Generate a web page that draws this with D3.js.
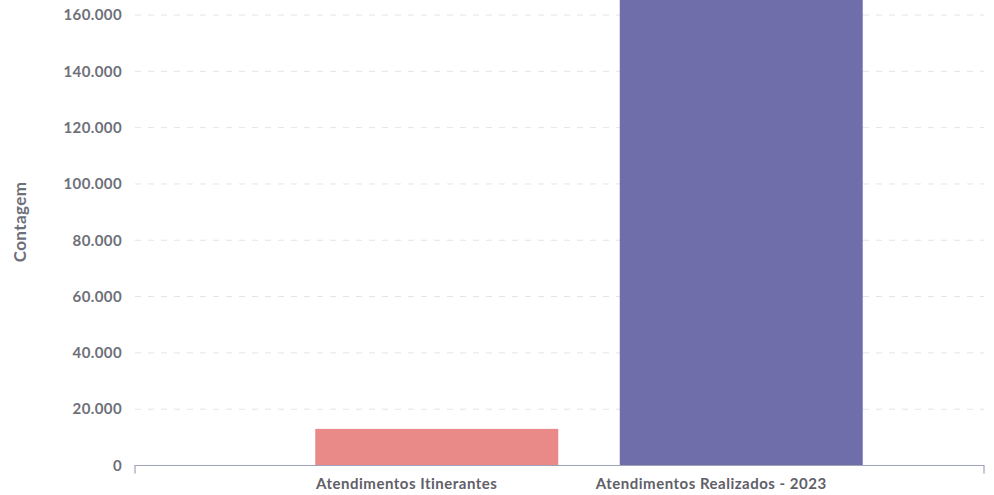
<!DOCTYPE html>
<html>
<head>
<meta charset="utf-8">
<script src="https://cdn.jsdelivr.net/npm/d3@7"></script>
<style>
  body { margin: 0; background: #fff; }
  svg { display: block; font-family: Lato, "Open Sans", sans-serif; }
</style>
</head>
<body>
<svg id="chart" width="994" height="495"></svg>
<script>
const categories = ["Atendimentos Itinerantes", "Atendimentos Realizados - 2023"];
const values = [13000, 185000];
const barColors = ["#e98a89", "#6f6eaa"];
const yTicks = [0, 20000, 40000, 60000, 80000, 100000, 120000, 140000, 160000];
const yTitle = "Contagem";

const svg = d3.select("#chart");
const axisLeft = 135, axisRight = 984;
const y0 = 465.5;

const y = d3.scaleLinear()
    .domain([0, 160000])
    .range([y0, 15]);

const x = d3.scaleBand()
    .domain(categories)
    .range([163, 1015])
    .paddingInner(0.202)
    .paddingOuter(0.5);

const fmt = v => d3.format(",")(v).replace(/,/g, ".");

// grid lines
svg.append("g")
    .selectAll("line")
    .data(yTicks.filter(d => d > 0))
    .join("line")
    .attr("x1", axisLeft)
    .attr("x2", axisRight)
    .attr("y1", d => y(d))
    .attr("y2", d => y(d))
    .attr("stroke", "#e3e4e8")
    .attr("stroke-dasharray", "6,7");

// y tick labels
svg.append("g")
    .selectAll("text")
    .data(yTicks)
    .join("text")
    .attr("x", 122)
    .attr("y", d => y(d))
    .attr("dy", "0.35em")
    .attr("text-anchor", "end")
    .attr("font-size", 15)
    .attr("letter-spacing", 0.4)
    .attr("font-weight", "bold")
    .attr("fill", "#6e7079")
    .text(fmt);

// y title
svg.append("text")
    .attr("transform", "translate(26,222) rotate(-90)")
    .attr("text-anchor", "middle")
    .attr("font-size", 17)
    .attr("letter-spacing", 0.4)
    .attr("font-weight", "bold")
    .attr("fill", "#6e7079")
    .text(yTitle);

// bars (clipped at top)
svg.append("defs").append("clipPath").attr("id", "clip")
    .append("rect").attr("x", 0).attr("y", 0).attr("width", 994).attr("height", y0);

svg.append("g")
    .attr("clip-path", "url(#clip)")
    .selectAll("rect")
    .data(values)
    .join("rect")
    .attr("x", (d, i) => x(categories[i]))
    .attr("width", x.bandwidth())
    .attr("y", d => y(d))
    .attr("height", d => y0 - y(d))
    .attr("fill", (d, i) => barColors[i]);

// x axis line with end ticks
svg.append("path")
    .attr("d", `M${axisLeft},${y0 + 8}V${y0}H${axisRight}V${y0 + 8}`)
    .attr("fill", "none")
    .attr("stroke", "#9ea3b8")
    .attr("stroke-width", 1.2);

// category labels (sit a little left of the bar centres, as in the source)
svg.append("g")
    .selectAll("text")
    .data(categories)
    .join("text")
    .attr("x", d => x(d) + x.bandwidth() / 2 - 30)
    .attr("y", 489)
    .attr("text-anchor", "middle")
    .attr("font-size", 15)
    .attr("letter-spacing", 0.5)
    .attr("font-weight", "bold")
    .attr("fill", "#5f6068")
    .text(d => d);
</script>
</body>
</html>
